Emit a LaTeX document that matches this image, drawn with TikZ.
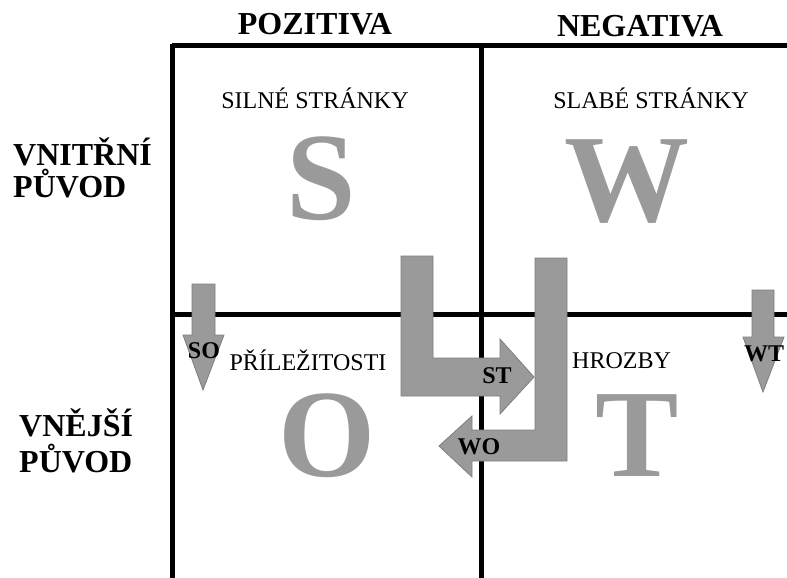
\documentclass[tikz,border=0pt]{standalone}
\usepackage{fontspec}
\setmainfont{Liberation Serif}
\definecolor{swgray}{HTML}{9A9A9A}
\definecolor{swedge}{HTML}{7E7E7E}
\tikzset{
  gridline/.style={line width=5pt, black},
  headtxt/.style={font=\fontsize{32}{36}\selectfont\bfseries, anchor=base, inner sep=0pt},
  sidetxt/.style={font=\fontsize{32}{36}\selectfont\bfseries, anchor=base west, inner sep=0pt},
  captxt/.style={font=\fontsize{24}{28}\selectfont, anchor=base, inner sep=0pt},
  bigletter/.style={font=\fontsize{125}{130}\selectfont\bfseries, text=swgray, anchor=base, inner sep=0pt},
  tagtxt/.style={font=\fontsize{24}{28}\selectfont\bfseries, anchor=base, inner sep=0pt},
  arrowshape/.style={fill=swgray, draw=swedge, line width=0.8pt, line join=miter}
}
\begin{document}
\begin{tikzpicture}[x=1pt,y=-1pt]
\useasboundingbox[fill=white] (0,0) rectangle (787,578);
% grid
\draw[gridline] (172,46) -- (787,46);
\draw[gridline] (172,314) -- (787,314);
\draw[gridline] (172,44) -- (172,578);
\draw[gridline] (481,44) -- (481,578);
% headers
\node[headtxt] (poz) at (315,35) {POZITIVA};
\node[headtxt] (neg) at (640,37) {NEGATIVA};
\node[sidetxt] (vn1) at (13,165) {VNITŘNÍ};
\node[sidetxt] (vn2) at (13,197) {PŮVOD};
\node[sidetxt] (ve1) at (19,436) {VNĚJŠÍ};
\node[sidetxt] (ve2) at (19,472) {PŮVOD};
% captions
\node[captxt] (silne) at (315,108) {SILNÉ STRÁNKY};
\node[captxt] (slabe) at (651,108) {SLABÉ STRÁNKY};
\node[captxt] (prile) at (308,370) {PŘÍLEŽITOSTI};
\node[captxt, anchor=base west] (hroz) at (572,368) {HROZBY};
% big letters
\node[bigletter] (bS) at (321,219) {S};
\node[bigletter] (bW) at (627,221) {W};
\node[bigletter] (bO) at (327,476) {O};
\node[bigletter] (bT) at (637,476) {T};
% SO arrow
\draw[arrowshape] (192,284) -- (215,284) -- (215,335) -- (224,335) -- (203,390) -- (183,335) -- (192,335) -- cycle;
% WT arrow
\draw[arrowshape] (752,290) -- (774,290) -- (774,337) -- (784,337) -- (763,392) -- (743,337) -- (752,337) -- cycle;
% ST arrow (L shape)
\draw[arrowshape] (401,256) -- (433,256) -- (433,358) -- (500,358) -- (500,339) -- (534,377) -- (500,414) -- (500,396) -- (401,396) -- cycle;
% WO arrow (J shape)
\draw[arrowshape] (535,258) -- (567,258) -- (567,461) -- (472,461) -- (472,477) -- (439,446) -- (472,416) -- (472,430) -- (535,430) -- cycle;
% arrow labels
\node[tagtxt] (so) at (204,358) {SO};
\node[tagtxt] (wt) at (764,361) {WT};
\node[tagtxt] (st) at (497,383) {ST};
\node[tagtxt] (wo) at (479,454) {WO};
\end{tikzpicture}
\end{document}
